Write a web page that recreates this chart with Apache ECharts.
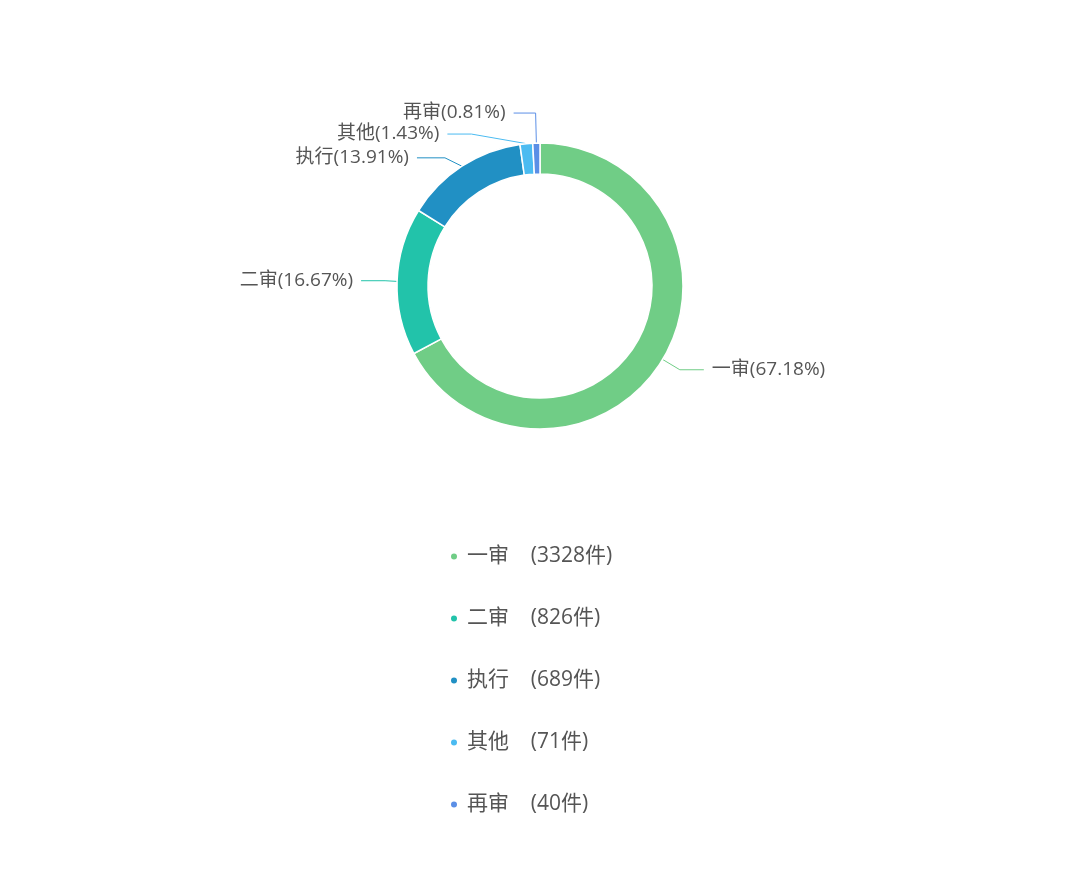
<!DOCTYPE html>
<html><head><meta charset="utf-8">
<script src="https://cdn.jsdelivr.net/npm/echarts@6/dist/echarts.min.js"></script>
<style>html,body{margin:0;padding:0;background:#fff}#c{width:1080px;height:874px}</style>
</head><body><div id="c"></div>
<script>
const categories = ['一审', '二审', '执行', '其他', '再审'];
const counts = [3328, 826, 689, 71, 40];
const colors = ['#70cd86', '#22c3aa', '#2190c4', '#4bbbf1', '#5b8fe6'];

const FONT = '"Open Sans", "Noto Sans CJK SC", sans-serif';
const chart = echarts.init(document.getElementById('c'));
const data = categories.map((n, i) => {
  const d = { name: n, value: counts[i] };
  if (n === '再审') d.labelLine = { length: 30, length2: 22 };
  if (n === '其他') d.labelLine = { length: 16, length2: 24 };
  if (n === '执行') d.labelLine = { length: 10, length2: 28 };
  return d;
});
chart.setOption({
  color: colors,
  textStyle: { fontFamily: FONT },
  legend: {
    orient: 'vertical',
    left: 444,
    top: 541,
    itemGap: 41,
    icon: 'circle',
    itemWidth: 8,
    itemHeight: 8,
    textStyle: { fontSize: 21, color: '#555', fontFamily: FONT, padding: [0, 0, 0, 4] },
    formatter: function (name) {
      const i = categories.indexOf(name);
      return name + '    (' + counts[i] + '件)';
    },
    data: categories
  },
  series: [{
    type: 'pie',
    center: [540, 286],
    radius: [112, 143],
    startAngle: 90,
    clockwise: true,
    avoidLabelOverlap: true,
    itemStyle: { borderColor: '#fff', borderWidth: 1.5 },
    label: {
      formatter: '{b}({d}%)',
      fontSize: 19,
      color: '#555',
      fontFamily: FONT,
      distanceToLabelLine: 8
    },
    labelLine: { length: 20, length2: 24 },
    data: data
  }]
});
</script></body></html>
